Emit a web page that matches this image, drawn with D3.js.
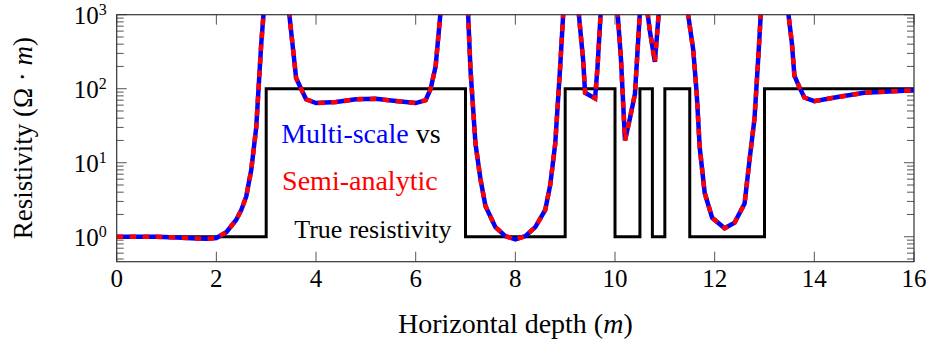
<!DOCTYPE html>
<html><head><meta charset="utf-8">
<script src="https://cdn.jsdelivr.net/npm/d3@7"></script>
<style>
html,body{margin:0;padding:0;background:#fff;}
</style></head>
<body>
<svg id="chart" width="930" height="343"></svg>
<script>
// ---- data ----
const depth = [0,0.4,0.8,1.2,1.6,1.8,2.0,2.2,2.4,2.5,2.6,2.7,2.8,2.9,3.0,3.2,3.4,3.5,3.6,3.7,3.8,4.0,4.4,4.8,5.2,5.6,6.0,6.2,6.3,6.4,6.5,6.7,6.9,7.05,7.1,7.2,7.3,7.4,7.6,7.8,8.0,8.2,8.4,8.6,8.7,8.8,8.9,9.0,9.1,9.25,9.36,9.4,9.6,9.65,9.72,9.9,10.05,10.12,10.2,10.3,10.4,10.5,10.6,10.7,10.8,10.88,11.0,11.3,11.45,11.57,11.64,11.7,11.8,11.95,12.2,12.4,12.6,12.7,12.8,12.88,12.95,13.2,13.45,13.55,13.6,13.7,13.8,14.0,14.5,15.0,15.5,16.0];
const multiScale = [1.0,1.0,1.0,0.98,0.95,0.94,0.96,1.15,1.7,2.3,3.5,8,30,400,3000,8000,2500,600,140,100,72,64,66,72,73,68,64,70,100,200,1100,5000,3000,1100,180,18,6,2.6,1.35,1.02,0.92,1.02,1.35,2.3,5,18,200,3000,5000,1500,245,88,74,200,1300,3000,1100,250,20,40,85,1100,2000,600,230,1100,3000,4000,1200,333,85,16,3.9,1.8,1.3,1.55,2.8,11,40,300,2000,5000,1500,410,150,105,76,68,78,88,92,95];
const semiAnalytic = multiScale.slice();
const stepDepth = [0,3,7,9,10,10.5,10.75,11,11.5,13,16];
const trueRes = [1,100,1,100,1,100,1,100,1,100,100];
const xTicks = [0,2,4,6,8,10,12,14,16];
const yTicks = [1,10,100,1000];
const yTickExp = ["0","1","2","3"];

// ---- layout ----
const FONT = "'Liberation Serif','Times New Roman','DejaVu Serif',serif";
const L=116.7,R=914,T=14.7,B=261.7;
const svg=d3.select("#chart");
const x=d3.scaleLinear().domain([0,16]).range([L,R]);
const y=d3.scaleLog().domain([0.46,1000]).range([B,T]);

svg.append("defs").append("clipPath").attr("id","clip")
  .append("rect").attr("x",L).attr("y",T).attr("width",R-L).attr("height",B-T);

// ticks
const minor=[];
[0.1,1,10,100].forEach(d=>{for(let k=2;k<=9;k++){const v=d*k; if(v>=0.46&&v<1000) minor.push(v);}});
const tg=svg.append("g").attr("stroke","#555").attr("stroke-width",1);
minor.forEach(v=>{
  tg.append("line").attr("x1",L).attr("x2",L+7).attr("y1",y(v)).attr("y2",y(v));
  tg.append("line").attr("x1",R).attr("x2",R-7).attr("y1",y(v)).attr("y2",y(v));
});
yTicks.forEach(v=>{
  tg.append("line").attr("x1",L).attr("x2",L+10).attr("y1",y(v)).attr("y2",y(v));
  tg.append("line").attr("x1",R).attr("x2",R-10).attr("y1",y(v)).attr("y2",y(v));
});
xTicks.forEach(v=>{
  tg.append("line").attr("x1",x(v)).attr("x2",x(v)).attr("y1",B).attr("y2",B-10);
  tg.append("line").attr("x1",x(v)).attr("x2",x(v)).attr("y1",T).attr("y2",T+10);
});

// lines
const g=svg.append("g").attr("clip-path","url(#clip)");
const stepLine=d3.line().x((d,i)=>x(stepDepth[i])).y((d,i)=>y(trueRes[i])).curve(d3.curveStepAfter);
g.append("path").attr("d",stepLine(stepDepth)).attr("fill","none").attr("stroke","#000").attr("stroke-width",3);
const curve=(arr)=>d3.line().x((d,i)=>x(depth[i])).y((d,i)=>y(arr[i]))(depth);
g.append("path").attr("d",curve(multiScale)).attr("fill","none").attr("stroke","#0000ff").attr("stroke-width",4.5).attr("stroke-linejoin","miter");
g.append("path").attr("d",curve(semiAnalytic)).attr("fill","none").attr("stroke","#ff0000").attr("stroke-width",4.5).attr("stroke-dasharray","6.5,6.5");

// frame
svg.append("rect").attr("x",L).attr("y",T).attr("width",R-L).attr("height",B-T).attr("fill","none").attr("stroke","#333").attr("stroke-width",1.2);

// tick labels
xTicks.forEach(v=>{
  svg.append("text").attr("font-family",FONT).attr("x",x(v)).attr("y",287).attr("text-anchor","middle").attr("font-size",25).text(v);
});
yTicks.forEach((v,i)=>{
  const t=svg.append("text").attr("font-family",FONT).attr("x",L-10).attr("y",y(v)+9).attr("text-anchor","end").attr("font-size",25);
  t.append("tspan").text("10");
  t.append("tspan").attr("font-size",16).attr("dy",-9).text(yTickExp[i]);
});

// axis labels
const xl=svg.append("text").attr("font-family",FONT).attr("x",(L+R)/2).attr("y",333).attr("text-anchor","middle").attr("font-size",28);
xl.append("tspan").text("Horizontal depth (");
xl.append("tspan").attr("font-style","italic").text("m");
xl.append("tspan").text(")");
const yl=svg.append("text").attr("font-family",FONT).attr("transform",`translate(32,${(T+B)/2}) rotate(-90)`).attr("text-anchor","middle").attr("font-size",27);
yl.append("tspan").text("Resistivity (Ω · ");
yl.append("tspan").attr("font-style","italic").text("m");
yl.append("tspan").text(")");

// annotations (data coordinates)
const a1=svg.append("text").attr("font-family",FONT).attr("x",x(4.9)).attr("y",y(18.5)).attr("text-anchor","middle").attr("font-size",28);
a1.append("tspan").attr("fill","#0000ff").text("Multi-scale");
a1.append("tspan").attr("fill","#000").text(" vs");
svg.append("text").attr("font-family",FONT).attr("x",x(4.88)).attr("y",y(4.28)).attr("text-anchor","middle").attr("font-size",28).attr("fill","#ff0000").text("Semi-analytic");
svg.append("text").attr("font-family",FONT).attr("x",x(5.14)).attr("y",y(0.96)).attr("text-anchor","middle").attr("font-size",26).attr("fill","#000").text("True resistivity");
</script>
</body></html>
